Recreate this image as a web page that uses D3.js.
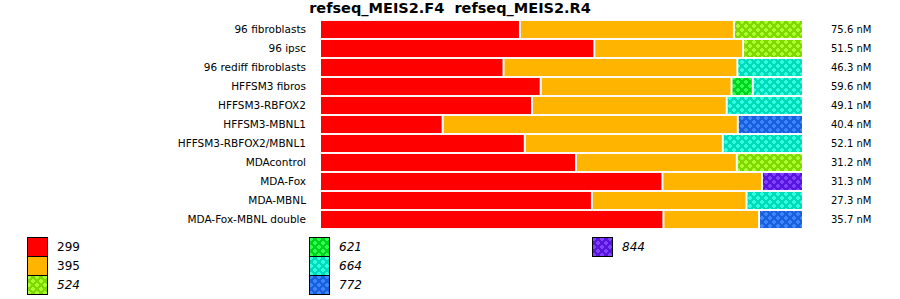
<!DOCTYPE html>
<html>
<head>
<meta charset="utf-8">
<script src="https://cdn.jsdelivr.net/npm/d3@7"></script>
<style>
  body { margin: 0; background: #fff; }
  svg text { font-family: "DejaVu Sans", sans-serif; fill: #000; }
</style>
</head>
<body>
<div id="chart"></div>
<script>
// data (percent of each bar)
const categories = ["96 fibroblasts", "96 ipsc", "96 rediff fibroblasts", "HFFSM3 fibros",
  "HFFSM3-RBFOX2", "HFFSM3-MBNL1", "HFFSM3-RBFOX2/MBNL1", "MDAcontrol", "MDA-Fox",
  "MDA-MBNL", "MDA-Fox-MBNL double"];
const concentrations = ["75.6 nM", "51.5 nM", "46.3 nM", "59.6 nM", "49.1 nM", "40.4 nM",
  "52.1 nM", "31.2 nM", "31.3 nM", "27.3 nM", "35.7 nM"];
const seriesNames = ["299", "395", "524", "621", "664", "772", "844"];
const s299 = [41.4, 56.8, 38.0, 45.7, 43.9, 25.4, 42.4, 53.0, 70.9, 56.3, 71.1];
const s395 = [44.3, 30.8, 48.4, 39.5, 40.3, 61.1, 41.0, 33.3, 20.6, 32.0, 19.8];
const s524 = [14.3, 12.4, 0, 0, 0, 0, 0, 13.7, 0, 0, 0];
const s621 = [0, 0, 0, 4.4, 0, 0, 0, 0, 0, 0, 0];
const s664 = [0, 0, 13.6, 10.4, 15.8, 0, 16.6, 0, 0, 11.7, 0];
const s772 = [0, 0, 0, 0, 0, 13.5, 0, 0, 0, 0, 9.1];
const s844 = [0, 0, 0, 0, 0, 0, 0, 0, 8.5, 0, 0];
const title = "refseq_MEIS2.F4  refseq_MEIS2.R4";

// colours: base and dot colour (null = plain fill)
const baseColors = ["#ff0000", "#ffb400", "#80d800", "#00d420", "#00dcb8", "#1a60dc", "#5a14e0"];
const dotColors = [null, null, "#a8ff30", "#30ff50", "#30ffe4", "#3a86ff", "#7c44ff"];

const width = 900, height = 299;
const svg = d3.select("#chart").append("svg")
  .attr("width", width)
  .attr("height", height);

// dotted fill patterns
const defs = svg.append("defs");
seriesNames.forEach(function(name, i) {
  if (!dotColors[i]) return;
  const p = defs.append("pattern")
    .attr("id", "pat" + name)
    .attr("patternUnits", "userSpaceOnUse")
    .attr("width", 8).attr("height", 8);
  p.append("rect").attr("width", 8).attr("height", 8).attr("fill", baseColors[i]);
  [[2, 2], [6, 6]].forEach(function(c) {
    p.append("rect").attr("x", c[0] - 1).attr("y", c[1] - 2).attr("width", 2).attr("height", 4).attr("fill", dotColors[i]);
    p.append("rect").attr("x", c[0] - 2).attr("y", c[1] - 1).attr("width", 4).attr("height", 2).attr("fill", dotColors[i]);
  });
});
function fillFor(i) {
  return dotColors[i] ? "url(#pat" + seriesNames[i] + ")" : baseColors[i];
}

const allSeries = [s299, s395, s524, s621, s664, s772, s844];
const rows = categories.map(function(c, j) {
  const r = { name: c };
  seriesNames.forEach(function(n, i) { r[n] = allSeries[i][j]; });
  return r;
});
const stacked = d3.stack().keys(seriesNames)(rows);

const x = d3.scaleLinear().domain([0, 100]).range([321, 804]);
const y = d3.scaleBand().domain(categories).range([20, 229])
  .paddingInner(0.1).paddingOuter(0.05);

// title
svg.append("text")
  .attr("x", 450).attr("y", 13)
  .attr("text-anchor", "middle")
  .style("font-weight", "bold")
  .style("font-size", "14.5px")
  .style("white-space", "pre")
  .text(title);

// bars
svg.append("g").selectAll("g")
  .data(stacked)
  .enter().append("g")
    .attr("fill", function(d, i) { return fillFor(i); })
  .selectAll("rect")
  .data(function(d) { return d.filter(function(v) { return v[1] - v[0] > 0; }); })
  .enter().append("rect")
    .attr("x", function(d) { return x(d[0]); })
    .attr("y", function(d) { return y(d.data.name); })
    .attr("width", function(d) { return x(d[1]) - x(d[0]) - 2; })
    .attr("height", y.bandwidth());

// category labels
svg.append("g").selectAll("text")
  .data(categories)
  .enter().append("text")
    .attr("x", 306)
    .attr("y", function(d) { return y(d) + y.bandwidth() / 2; })
    .attr("dy", "0.35em")
    .attr("text-anchor", "end")
    .style("font-size", "10.5px")
    .text(function(d) { return d; });

// concentration labels
svg.append("g").selectAll("text")
  .data(concentrations)
  .enter().append("text")
    .attr("x", 831)
    .attr("y", function(d, j) { return y(categories[j]) + y.bandwidth() / 2; })
    .attr("dy", "0.35em")
    .style("font-size", "10px")
    .text(function(d) { return d; });

// legend
const legendCols = [27, 309, 592];
const legend = svg.append("g").selectAll("g")
  .data(seriesNames)
  .enter().append("g")
    .attr("transform", function(d, i) {
      return "translate(" + legendCols[Math.floor(i / 3)] + "," + (237 + (i % 3) * 19) + ")";
    });
legend.append("rect")
  .attr("x", 0.5).attr("y", 0.5)
  .attr("width", 20).attr("height", 19)
  .attr("fill", function(d, i) { return fillFor(i); })
  .attr("stroke", "#000");
legend.append("text")
  .attr("x", 30)
  .attr("y", 10)
  .attr("dy", "0.35em")
  .style("font-size", "12px")
  .style("font-style", function(d, i) { return i < 2 ? "normal" : "italic"; })
  .text(function(d) { return d; });
</script>
</body>
</html>
